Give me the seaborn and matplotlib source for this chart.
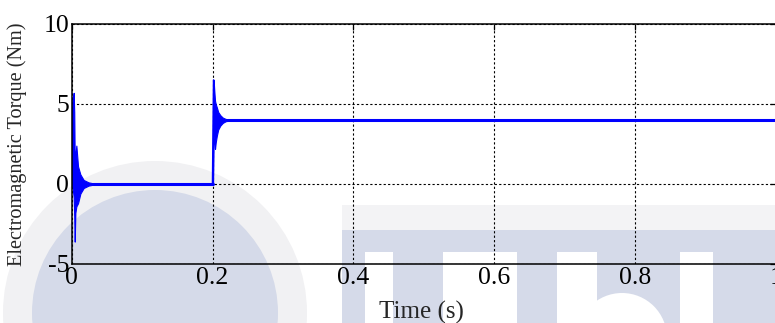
import numpy as np
import pandas as pd
import seaborn as sns
import matplotlib
matplotlib.use("Agg")
import matplotlib.pyplot as plt
from matplotlib.patches import Circle, Rectangle

# --- torque trace data (time in s, torque in Nm) ---
# start-up transient: upper / lower envelope of the fast oscillation
t_start = [0.0, 0.0010, 0.0020, 0.0028, 0.0036, 0.0043, 0.0052, 0.0066, 0.0090, 0.0123, 0.0170, 0.0240, 0.0310]
start_hi = [0.0, 3.5, 5.4, 5.7, 4.5, 1.5, 1.8, 2.4, 1.1, 0.6, 0.25, 0.1, 0.04]
start_lo = [0.0, -0.2, -0.5, -0.8, -2.0, -3.6, -1.8, -1.4, -1.2, -0.6, -0.25, -0.1, -0.04]

# load step applied at t = 0.2 s
t_load = [0.2000, 0.2007, 0.2015, 0.2025, 0.2035, 0.2045, 0.2060, 0.2080, 0.2110, 0.2145, 0.2185, 0.2240]
load_hi = [0.0, 4.0, 6.5, 5.8, 5.2, 5.0, 4.8, 4.5, 4.3, 4.15, 4.07, 4.03]
load_lo = [0.0, 0.0, 2.5, 3.0, 2.2, 2.6, 3.0, 3.4, 3.65, 3.82, 3.92, 3.97]

# steady-state segments
t_noload = [0.030, 0.2000]
torque_noload = [0.0, 0.0]
t_loaded = [0.2200, 1.0]
torque_loaded = [4.0, 4.0]

x_ticks = [0, 0.2, 0.4, 0.6, 0.8, 1.0]
x_tick_labels = ["0", "0.2", "0.4", "0.6", "0.8", "1"]
y_ticks = [-5, 0, 5, 10]
y_tick_labels = ["-5", "0", "5", "10"]

TRACE = "#0000ff"

sns.set_style("white")
plt.rcParams["font.family"] = ["Liberation Serif", "DejaVu Serif"]
plt.rcParams["axes.unicode_minus"] = False
plt.rcParams["lines.scale_dashes"] = False

W, H = 775, 323
fig = plt.figure(figsize=(W / 100, H / 100), dpi=100)
fig.patch.set_facecolor("white")

# background emblem behind the plot (pixel positions measured from the top-left)
def px(x, y):
    return (x / 100, (H - y) / 100)

emb = dict(transform=fig.dpi_scale_trans, zorder=-5, linewidth=0)
fig.patches.append(Circle(px(155, 313), 1.52, facecolor="#f1f1f3", **emb))
fig.patches.append(Circle(px(155, 313), 1.23, facecolor="#d5dae9", **emb))
fig.patches.append(Rectangle(px(342, 230), 4.40, 0.25, facecolor="#f3f3f5", **emb))
fig.patches.append(Rectangle(px(342, 330), 4.40, 1.00, facecolor="#d5dae9", **emb))
for x0, x1 in [(365, 393), (443, 517), (557, 597), (680, 713)]:
    fig.patches.append(Rectangle(px(x0, 330), (x1 - x0) / 100, 0.78, facecolor="white", **emb))
fig.patches.append(Circle(px(622, 338), 0.45, facecolor="white", **emb))

ax = fig.add_axes([71.7 / W, 59 / H, (776 - 71.7) / W, 240 / H])
ax.set_facecolor("none")

# transient bands
ax.fill_between(t_start, start_lo, start_hi, color=TRACE, linewidth=0.8, zorder=3)
ax.fill_between(t_load, load_lo, load_hi, color=TRACE, linewidth=0.8, zorder=3)
ax.plot([t_start[0], t_start[2]], [0.0, start_hi[2]], color=TRACE, lw=1.2, zorder=3)
ax.plot([t_load[0], t_load[2]], [0.0, load_hi[2]], color=TRACE, lw=1.2, zorder=3)

# steady segments
sns.lineplot(x=t_noload, y=torque_noload, color=TRACE, linewidth=2.2, ax=ax, zorder=3)
sns.lineplot(x=t_loaded, y=torque_loaded, color=TRACE, linewidth=2.2, ax=ax, zorder=3)

ax.set_xlim(0, 1)
ax.set_ylim(-5, 10)
ax.set_xticks(x_ticks)
ax.set_xticklabels(x_tick_labels)
ax.set_yticks(y_ticks)
ax.set_yticklabels(y_tick_labels)

ax.grid(True, color="black", linestyle=(0, (1.6, 1.6)), linewidth=0.8)
ax.set_axisbelow(False)
for s in ax.spines.values():
    s.set_color("black")
    s.set_linewidth(1.1)
    s.set_zorder(4)

ax.tick_params(axis="both", direction="in", length=4, width=0.9, colors="black",
               labelsize=18.5, top=True, right=True)
ax.tick_params(axis="x", pad=2.5)
ax.tick_params(axis="y", pad=2.0)

ax.set_xlabel("Time (s)", fontsize=18, labelpad=0)
ax.set_ylabel("Electromagnetic Torque (Nm)", fontsize=14.6)
ax.xaxis.set_label_coords(0.497, -0.152)
ax.yaxis.set_label_coords(-0.063, 0.5)

fig.savefig("out.png", dpi=100)
